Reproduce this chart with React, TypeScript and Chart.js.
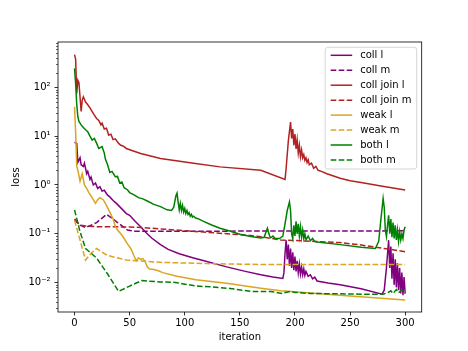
import React, { useEffect, useRef } from "react";
import { Chart, registerables } from "chart.js";

Chart.register(...registerables);

// ---------- data ----------
const ITERATION_TICKS = [0, 50, 100, 150, 200, 250, 300];
const LOSS_TICKS = [0.01, 0.1, 1, 10, 100];
const SERIES_LABELS = ["coll l", "coll m", "coll join l", "coll join m", "weak l", "weak m", "both l", "both m"];

// [iteration, loss]
const collL: [number, number][] = [
  [0, 7.5], [2, 7.1], [3, 2.9], [5, 3.6], [6, 2.6], [8, 2.4], [9, 2.8], [11, 1.7], [12, 1.9], [14, 1.3],
  [15, 1.45], [17, 1.0], [19, 1.1], [21, 0.85], [23, 0.92], [25, 0.75], [27, 0.78], [30, 0.62], [32, 0.57],
  [35, 0.48], [38, 0.42], [42, 0.34], [47, 0.26], [50, 0.24], [55, 0.18], [60, 0.14], [65, 0.105],
  [70, 0.082], [78, 0.06], [85, 0.048], [95, 0.039], [108, 0.032], [120, 0.027], [138, 0.021],
  [155, 0.017], [169, 0.0145], [180, 0.013], [189, 0.0122], [190, 0.016], [191, 0.04], [192, 0.074],
  [193, 0.03], [194, 0.06], [195, 0.022], [196, 0.05], [197, 0.02], [198, 0.042], [199, 0.018],
  [200, 0.034], [201, 0.017], [202, 0.028], [203, 0.016], [204, 0.024], [205, 0.015], [206, 0.021],
  [207, 0.0145], [208, 0.019], [209, 0.014], [210, 0.017], [212, 0.0135], [214, 0.0145], [216, 0.012],
  [218, 0.013], [220, 0.0108], [230, 0.0098], [241, 0.009], [260, 0.0075], [279, 0.0058], [281, 0.007],
  [283, 0.02], [285, 0.074], [286, 0.02], [287, 0.055], [288, 0.012], [289, 0.04], [290, 0.009],
  [291, 0.03], [292, 0.008], [293, 0.025], [294, 0.007], [295, 0.02], [296, 0.006], [297, 0.016],
  [298, 0.0055], [299, 0.013], [300, 0.006],
];
const collM: [number, number][] = [
  [0, 0.2], [5, 0.15], [10, 0.135], [15, 0.15], [20, 0.17], [25, 0.21], [29, 0.25], [34, 0.21],
  [39, 0.17], [44, 0.14], [48, 0.12], [55, 0.113], [100, 0.113], [200, 0.114], [300, 0.115],
];
const collJoinL: [number, number][] = [
  [0, 470], [1, 380], [2, 75], [3, 140], [4, 125], [6, 32], [7, 55], [8, 64], [10, 50], [12, 44],
  [14, 38], [16, 32], [18, 27], [20, 23], [22, 21], [24, 17], [25, 18.5], [27, 14], [29, 14.5],
  [31, 10.5], [33, 11], [35, 8.5], [37, 8.8], [40, 7.1], [42, 6.5], [44, 6.3], [47, 5.6], [52, 5.1],
  [60, 4.4], [78, 3.5], [108, 2.8], [132, 2.35], [169, 2.0], [191, 1.3], [192, 2.2], [194, 8],
  [196, 19.5], [197, 9], [198, 14], [199, 6.5], [200, 11], [201, 5.5], [202, 8.5], [203, 4.5],
  [204, 6.5], [205, 3.8], [206, 5.2], [207, 3.6], [208, 4.2], [209, 3.2], [210, 3.6], [211, 2.9],
  [212, 3.3], [213, 2.6], [215, 2.8], [217, 2.2], [219, 2.4], [221, 2.0], [224, 1.9], [229, 1.7],
  [241, 1.38], [250, 1.22], [260, 1.12], [278, 0.95], [300, 0.79],
];
const collJoinM: [number, number][] = [
  [0, 0.19], [3, 0.165], [6, 0.15], [10, 0.145], [20, 0.14], [50, 0.138], [60, 0.135], [114, 0.11],
  [160, 0.092], [169, 0.087], [187, 0.075], [241, 0.066], [260, 0.059], [281, 0.05], [300, 0.043],
];
const weakL: [number, number][] = [
  [0, 40], [1, 12], [2, 2.4], [3, 2.0], [5, 1.2], [7, 1.7], [9, 1.0], [11, 0.85], [13, 0.7], [15, 0.6],
  [17, 0.5], [19, 0.42], [21, 0.5], [23, 0.55], [26, 0.5], [28, 0.42], [31, 0.31], [33, 0.25],
  [35, 0.2], [37, 0.14], [39, 0.12], [42, 0.1], [45, 0.08], [48, 0.062], [51, 0.05], [54, 0.035],
  [56, 0.028], [58, 0.032], [60, 0.03], [62, 0.031], [64, 0.027], [66, 0.021], [68, 0.019],
  [72, 0.0185], [76, 0.0175], [80, 0.016], [93, 0.0135], [110, 0.0115], [138, 0.0097], [169, 0.0077],
  [187, 0.0068], [250, 0.0053], [300, 0.0044],
];
const weakM: [number, number][] = [
  [0, 0.19], [10, 0.029], [15, 0.04], [20, 0.05], [25, 0.042], [30, 0.036], [47, 0.029], [63, 0.0275],
  [78, 0.026], [120, 0.0245], [169, 0.0235], [300, 0.0235],
];
const bothL: [number, number][] = [
  [0, 245], [1, 120], [2, 45], [3, 25], [4, 20], [6, 17], [8, 15], [10, 13.5], [12, 12.3], [14, 10],
  [16, 8.3], [18, 9], [20, 7.2], [22, 5.6], [25, 6.1], [27, 4.5], [28, 3.4], [30, 2.6], [32, 1.8],
  [34, 1.9], [37, 1.48], [39, 1.5], [41, 1.1], [43, 1.15], [45, 0.88], [48, 0.8], [50, 0.7], [54, 0.63],
  [58, 0.55], [62, 0.52], [66, 0.47], [72, 0.4], [78, 0.36], [84, 0.31], [88, 0.3], [90, 0.35],
  [92, 0.6], [93, 0.68], [94, 0.45], [95, 0.31], [96, 0.42], [97, 0.3], [98, 0.38], [99, 0.28],
  [100, 0.33], [101, 0.26], [102, 0.3], [103, 0.25], [104, 0.27], [105, 0.23], [106, 0.25], [107, 0.22],
  [108, 0.23], [110, 0.21], [113, 0.2], [117, 0.18], [125, 0.15], [132, 0.13], [140, 0.115],
  [150, 0.098], [160, 0.088], [169, 0.082], [172, 0.085], [175, 0.13], [177, 0.09], [178, 0.083],
  [180, 0.09], [182, 0.08], [186, 0.08], [189, 0.09], [191, 0.16], [193, 0.3], [195, 0.45], [196, 0.3],
  [197, 0.1], [198, 0.08], [199, 0.15], [200, 0.09], [201, 0.18], [202, 0.1], [203, 0.16], [204, 0.09],
  [205, 0.14], [206, 0.085], [207, 0.12], [208, 0.08], [209, 0.1], [210, 0.076], [212, 0.09],
  [214, 0.072], [216, 0.08], [218, 0.069], [220, 0.068], [241, 0.06], [260, 0.053], [273, 0.05],
  [276, 0.07], [278, 0.2], [280, 0.53], [281, 0.35], [282, 0.12], [283, 0.088], [284, 0.15],
  [285, 0.24], [286, 0.1], [287, 0.2], [288, 0.085], [289, 0.17], [290, 0.08], [291, 0.15], [292, 0.075],
  [293, 0.12], [294, 0.07], [295, 0.11], [296, 0.075], [297, 0.1], [298, 0.08], [299, 0.12], [300, 0.14],
];
const bothM: [number, number][] = [
  [0, 0.31], [5, 0.11], [10, 0.05], [15, 0.04], [20, 0.032], [30, 0.015], [40, 0.0066], [50, 0.0085],
  [61, 0.011], [78, 0.0103], [90, 0.0102], [100, 0.0093], [111, 0.0085], [123, 0.0082], [141, 0.0076],
  [160, 0.0066], [178, 0.0066], [188, 0.006], [196, 0.0066], [200, 0.0063], [214, 0.006], [260, 0.0058],
  [280, 0.0058], [284, 0.0062], [287, 0.0068], [289, 0.006], [292, 0.0072], [294, 0.0062], [297, 0.007],
  [300, 0.006],
];

const SERIES = [collL, collM, collJoinL, collJoinM, weakL, weakM, bothL, bothM];
const COLORS = ["#800080", "#800080", "#b22222", "#b22222", "#daa520", "#daa520", "#008000", "#008000"];
const DASHED = [false, true, false, true, false, true, false, true];

const FONT = '"DejaVu Sans", sans-serif';
const DASH = [5.6, 2.4];

const SUP: Record<string, string> = { "-": "⁻", "0": "⁰", "1": "¹", "2": "²", "3": "³" };
const powLabel = (v: number) => "10" + String(Math.round(Math.log10(v))).split("").map((c) => SUP[c]).join("");

const mplPlugin = {
  id: "mplDecor",
  afterDraw(chart: any) {
    const ctx = chart.ctx;
    const ca = chart.chartArea;
    const ys = chart.scales.y;
    ctx.save();
    // minor ticks on log axis
    ctx.strokeStyle = "#000";
    ctx.lineWidth = 0.6;
    for (let k = -4; k <= 3; k++) {
      for (let m = 2; m <= 9; m++) {
        const v = m * Math.pow(10, k);
        if (v < ys.min || v > ys.max) continue;
        const py = Math.round(ys.getPixelForValue(v)) + 0.5;
        ctx.beginPath();
        ctx.moveTo(ca.left - 2, py);
        ctx.lineTo(ca.left, py);
        ctx.stroke();
      }
    }
    // frame
    ctx.lineWidth = 0.8;
    ctx.strokeRect(ca.left, ca.top, ca.right - ca.left, ca.bottom - ca.top);

    // legend
    const w = 91.5, h = 121.7;
    const x0 = ca.right - 5 - w, y0 = ca.top + 5.3;
    const r = 2.5;
    ctx.beginPath();
    ctx.moveTo(x0 + r, y0);
    ctx.lineTo(x0 + w - r, y0);
    ctx.arcTo(x0 + w, y0, x0 + w, y0 + r, r);
    ctx.lineTo(x0 + w, y0 + h - r);
    ctx.arcTo(x0 + w, y0 + h, x0 + w - r, y0 + h, r);
    ctx.lineTo(x0 + r, y0 + h);
    ctx.arcTo(x0, y0 + h, x0, y0 + h - r, r);
    ctx.lineTo(x0, y0 + r);
    ctx.arcTo(x0, y0, x0 + r, y0, r);
    ctx.closePath();
    ctx.fillStyle = "rgba(255,255,255,0.8)";
    ctx.fill();
    ctx.strokeStyle = "rgba(204,204,204,0.8)";
    ctx.lineWidth = 1;
    ctx.stroke();
    ctx.font = "10px " + FONT;
    ctx.textBaseline = "middle";
    ctx.textAlign = "left";
    chart.data.datasets.forEach((ds: any, i: number) => {
      const y = y0 + 8 + i * 14.95;
      ctx.strokeStyle = ds.borderColor;
      ctx.lineWidth = 1.5;
      ctx.setLineDash(ds.borderDash || []);
      ctx.beginPath();
      ctx.moveTo(x0 + 5.5, y);
      ctx.lineTo(x0 + 27, y);
      ctx.stroke();
      ctx.setLineDash([]);
      ctx.fillStyle = "#000";
      ctx.fillText(ds.label, x0 + 35, y);
    });
    ctx.restore();
  },
};

export default function App() {
  const ref = useRef<HTMLCanvasElement | null>(null);
  useEffect(() => {
    if (!ref.current) return;
    const datasets = SERIES.map((s, i) => ({
      label: SERIES_LABELS[i],
      data: s.map(([x, y]) => ({ x, y })),
      borderColor: COLORS[i],
      backgroundColor: COLORS[i],
      borderWidth: 1.5,
      borderDash: DASHED[i] ? DASH : [],
      pointRadius: 0,
      tension: 0,
      fill: false,
      order: SERIES.length - i,
    }));
    const chart = new Chart(ref.current, {
      type: "line",
      data: { datasets },
      options: {
        animation: false,
        responsive: false,
        devicePixelRatio: 1,
        layout: { padding: { left: 0, top: 42, right: 46.3, bottom: 0 } },
        plugins: { legend: { display: false }, tooltip: { enabled: false } },
        scales: {
          x: {
            type: "linear",
            min: -15,
            max: 315,
            afterBuildTicks: (s: any) => {
              s.ticks = ITERATION_TICKS.map((v) => ({ value: v }));
            },
            afterFit: (s: any) => {
              s.height = 39;
            },
            ticks: { color: "#000", font: { family: FONT, size: 10 }, padding: 2, maxRotation: 0, autoSkip: false,
              callback: (v: any) => String(v) },
            grid: { display: true, drawOnChartArea: false, drawTicks: true, tickLength: 3.5, color: "#000", lineWidth: 0.8 },
            border: { display: false },
            title: { display: true, text: "iteration", color: "#000", font: { family: FONT, size: 10 }, padding: { top: 0, bottom: 7.7 } },
          },
          y: {
            type: "logarithmic",
            min: 0.0025,
            max: 850,
            afterBuildTicks: (s: any) => {
              s.ticks = LOSS_TICKS.map((v) => ({ value: v }));
            },
            afterFit: (s: any) => {
              s.width = 58;
            },
            ticks: { color: "#000", font: { family: FONT, size: 10 }, padding: 4, autoSkip: false,
              callback: (v: any) => powLabel(Number(v)) },
            grid: { display: true, drawOnChartArea: false, drawTicks: true, tickLength: 3.5, color: "#000", lineWidth: 0.8 },
            border: { display: false },
            title: { display: true, text: "loss", color: "#000", font: { family: FONT, size: 10 }, padding: { top: 10.7, bottom: 0 } },
          },
        },
      },
      plugins: [mplPlugin],
    } as any);
    return () => chart.destroy();
  }, []);
  return (
    <div style={{ position: "absolute", left: 0, top: 0, width: 468, height: 351, background: "#fff" }}>
      <canvas ref={ref} width={468} height={351} style={{ display: "block" }} />
    </div>
  );
}
